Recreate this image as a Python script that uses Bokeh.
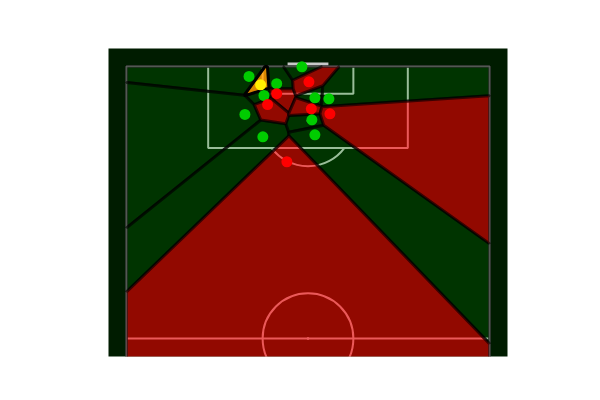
import math

from bokeh.embed import file_html
from bokeh.models import Range1d
from bokeh.plotting import figure
from bokeh.resources import INLINE

# freeze frame, pitch coords: h = across (0..80), v = length (goal line at 120)
green_h = [27.0, 33.1, 30.3, 26.1, 30.05, 38.66, 41.52, 44.61, 40.86, 41.52]
green_v = [117.8, 116.2, 113.6, 109.42, 104.5, 119.93, 113.1, 112.88, 108.25, 104.94]
red_h = [33.1, 31.1, 35.35, 40.2, 40.73, 44.83]
red_v = [114.0, 111.6, 98.99, 116.63, 110.67, 109.57]
ball_h = [29.55]
ball_v = [115.96]

PITCH_W = 80
PITCH_L = 120


def clip(poly, a, b, c):
    # keep the part of poly where a*x + b*y <= c
    out = []
    n = len(poly)
    for i in range(n):
        P = poly[i]
        Q = poly[(i + 1) % n]
        fp = a * P[0] + b * P[1] - c
        fq = a * Q[0] + b * Q[1] - c
        if fp <= 0:
            out.append(P)
        if fp * fq < 0:
            t = fp / (fp - fq)
            out.append((P[0] + t * (Q[0] - P[0]), P[1] + t * (Q[1] - P[1])))
    return out


def voronoi_cells(hs, vs):
    cells = []
    for i in range(len(hs)):
        poly = [(0, 0), (PITCH_W, 0), (PITCH_W, PITCH_L), (0, PITCH_L)]
        for j in range(len(hs)):
            if i == j:
                continue
            a = hs[j] - hs[i]
            b = vs[j] - vs[i]
            c = (hs[j] ** 2 + vs[j] ** 2 - hs[i] ** 2 - vs[i] ** 2) / 2
            poly = clip(poly, a, b, c)
            if not poly:
                break
        cells.append(poly)
    return cells


all_h = green_h + red_h + ball_h
all_v = green_v + red_v + ball_v
cells = voronoi_cells(all_h, all_v)
ng, nr = len(green_h), len(red_h)
green_cells = cells[:ng]
red_cells = cells[ng:ng + nr]
ball_cells = cells[ng + nr:]

p = figure(
    frame_width=399,
    frame_height=308,
    x_range=Range1d(-3.97, 83.97),
    y_range=Range1d(56.03, 123.97),
    output_backend="svg",
    toolbar_location=None,
    min_border_left=108,
    min_border_right=77,
    min_border_top=48,
    min_border_bottom=28,
)
p.axis.visible = False
p.grid.visible = False
p.outline_line_color = None
p.background_fill_color = "#001c00"
p.border_fill_color = "white"

# pitch markings (under the cells)
lc = "white"
lw = 2
p.line([0, 0, PITCH_W, PITCH_W], [0, PITCH_L, PITCH_L, 0], line_color=lc, line_width=lw)
p.line([0, PITCH_W], [60, 60], line_color=lc, line_width=lw)
p.line([18, 18, 62, 62], [PITCH_L, 102, 102, PITCH_L], line_color=lc, line_width=lw)
p.line([30, 30, 50, 50], [PITCH_L, 114, 114, PITCH_L], line_color=lc, line_width=lw)
p.arc(x=[40], y=[108], radius=10, start_angle=math.radians(216.87),
      end_angle=math.radians(323.13), line_color=lc, line_width=lw)
p.arc(x=[40], y=[60], radius=10, start_angle=0, end_angle=2 * math.pi,
      line_color=lc, line_width=lw)
p.scatter([40, 40], [108, 60], size=2, color=lc)
p.line([35.5, 44.5], [120.45, 120.45], line_color="#c8c8c8", line_width=4)

# voronoi cells
p.patches([[q[0] for q in c] for c in green_cells], [[q[1] for q in c] for c in green_cells],
          fill_color="#005a00", fill_alpha=0.4, line_color="black", line_alpha=0.6, line_width=3)
p.patches([[q[0] for q in c] for c in red_cells], [[q[1] for q in c] for c in red_cells],
          fill_color="#e00000", fill_alpha=0.65, line_color="black", line_alpha=0.6, line_width=3)
p.patches([[q[0] for q in c] for c in ball_cells], [[q[1] for q in c] for c in ball_cells],
          fill_color="#ff9900", fill_alpha=0.85, line_color="black", line_alpha=1, line_width=3)

# players
p.scatter(green_h, green_v, size=11, color="#00cc00", line_color=None)
p.scatter(red_h, red_v, size=11, color="#ff0000", line_color=None)
p.scatter(ball_h, ball_v, size=11, color="#ffee00", line_color=None)

open("out.html", "w").write(file_html(p, INLINE))
